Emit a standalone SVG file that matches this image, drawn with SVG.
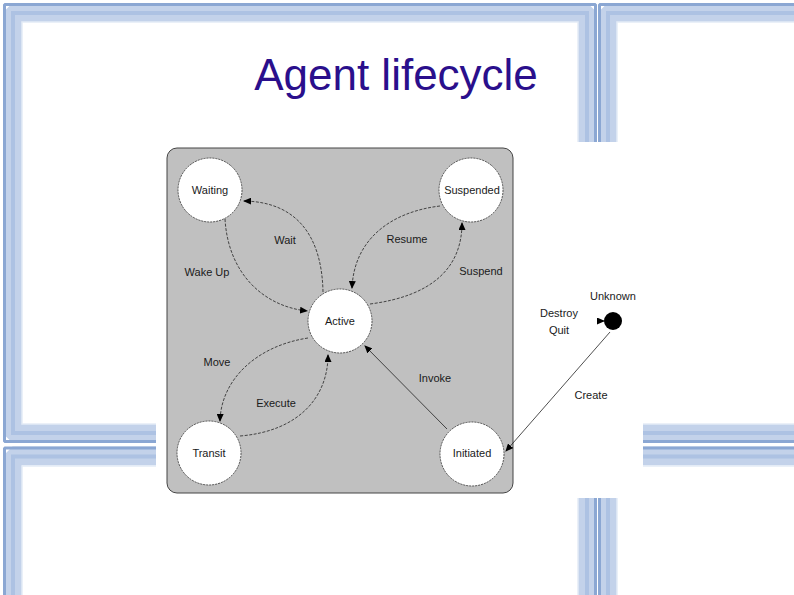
<svg xmlns="http://www.w3.org/2000/svg" width="794" height="595" viewBox="0 0 794 595">
<style>
.fr{fill:none;stroke:#c3d2ea;stroke-width:19;stroke-linejoin:bevel}
.frd{fill:none;stroke:#8ba7d3;stroke-width:3;stroke-linejoin:bevel}
.frm{fill:none;stroke:#a4badf;stroke-width:4;stroke-opacity:0.7}
.frh{fill:none;stroke:#e4ebf6;stroke-width:1.5}
.node{fill:#fff;stroke:#333;stroke-width:0.8;stroke-dasharray:2,1}
.lbl{font-family:"Liberation Sans",Arial,sans-serif;font-size:11px;fill:#1a1a1a;text-anchor:middle}
.edge{fill:none;stroke:#222;stroke-width:0.8;stroke-dasharray:3,1.5}
.sedge{fill:none;stroke:#222;stroke-width:0.8}
</style>
<defs>
<marker id="ah" markerWidth="8" markerHeight="7" refX="7" refY="3.5" orient="auto" markerUnits="userSpaceOnUse">
<path d="M0,0 L8,3.5 L0,7 Z" fill="#000"/>
</marker>
</defs>
<rect width="794" height="595" fill="#fff"/>
<g id="frame">
<rect class="fr" x="12.5" y="12.5" width="575" height="421"/>
<rect class="fr" x="607.5" y="12.5" width="220" height="421"/>
<rect class="fr" x="12.5" y="456" width="575" height="200"/>
<rect class="fr" x="607.5" y="456" width="220" height="200"/>
<rect class="frm" x="13" y="13" width="574" height="420"/>
<rect class="frm" x="608" y="13" width="220" height="420"/>
<rect class="frm" x="13" y="456.5" width="574" height="200"/>
<rect class="frm" x="608" y="456.5" width="220" height="200"/>
<rect class="frd" x="4.5" y="4.5" width="591" height="437"/>
<rect class="frd" x="599.5" y="4.5" width="231" height="437"/>
<rect class="frd" x="4.5" y="448" width="591" height="200"/>
<rect class="frd" x="599.5" y="448" width="231" height="200"/>
<rect class="frh" x="22" y="22" width="556" height="402"/>
<rect class="frh" x="617" y="22" width="200" height="402"/>
<rect class="frh" x="22" y="466" width="556" height="200"/>
<rect class="frh" x="617" y="466" width="200" height="200"/>
</g>
<text x="396" y="90" text-anchor="middle" font-family="'Liberation Sans',Arial,sans-serif" font-size="44" fill="#2a0f8c">Agent lifecycle</text>
<rect x="156" y="142" width="487" height="356" fill="#fff"/>
<rect id="panel" x="167" y="148" width="346" height="345" rx="10" ry="10" fill="#c0c0c0" stroke="#444" stroke-width="1"/>
<g id="connectors">
<path class="edge" d="M323,292 C322,240 300,202 244,201" marker-end="url(#ah)"/>
<path class="edge" d="M225,219 C228,272 262,306 307,311" marker-end="url(#ah)"/>
<path class="edge" d="M440,206 C390,212 354,240 352,288" marker-end="url(#ah)"/>
<path class="edge" d="M370,304 C432,296 462,268 462,223" marker-end="url(#ah)"/>
<path class="edge" d="M308,338 C256,346 221,380 220,421" marker-end="url(#ah)"/>
<path class="edge" d="M240,436 C300,431 328,396 328,355" marker-end="url(#ah)"/>
<path class="sedge" d="M447,429 L365,346" marker-end="url(#ah)"/>
<path class="sedge" d="M610,332 L506,451" marker-end="url(#ah)"/>
<path class="sedge" d="M597,321 L604,321" marker-end="url(#ah)"/>
<text class="lbl" x="285" y="244">Wait</text>
<text class="lbl" x="407" y="243">Resume</text>
<text class="lbl" x="207" y="276">Wake Up</text>
<text class="lbl" x="481" y="275">Suspend</text>
<text class="lbl" x="217" y="366">Move</text>
<text class="lbl" x="276" y="407">Execute</text>
<text class="lbl" x="435" y="382">Invoke</text>
<text class="lbl" x="559" y="317">Destroy</text>
<text class="lbl" x="559" y="334">Quit</text>
<text class="lbl" x="591" y="399">Create</text>
</g>
<g id="waiting"><circle class="node" cx="210" cy="190" r="32"/><text class="lbl" x="210" y="194">Waiting</text></g>
<g id="suspended"><circle class="node" cx="471" cy="190" r="32"/><text class="lbl" x="472" y="194">Suspended</text></g>
<g id="active"><circle class="node" cx="340" cy="321" r="32"/><text class="lbl" x="340" y="325">Active</text></g>
<g id="transit"><circle class="node" cx="209" cy="453" r="32"/><text class="lbl" x="209" y="457">Transit</text></g>
<g id="initiated"><circle class="node" cx="472" cy="454" r="32"/><text class="lbl" x="472" y="457">Initiated</text></g>
<g id="unknown"><circle cx="613" cy="321" r="9" fill="#000"/><text class="lbl" x="613" y="300">Unknown</text></g>
</svg>
